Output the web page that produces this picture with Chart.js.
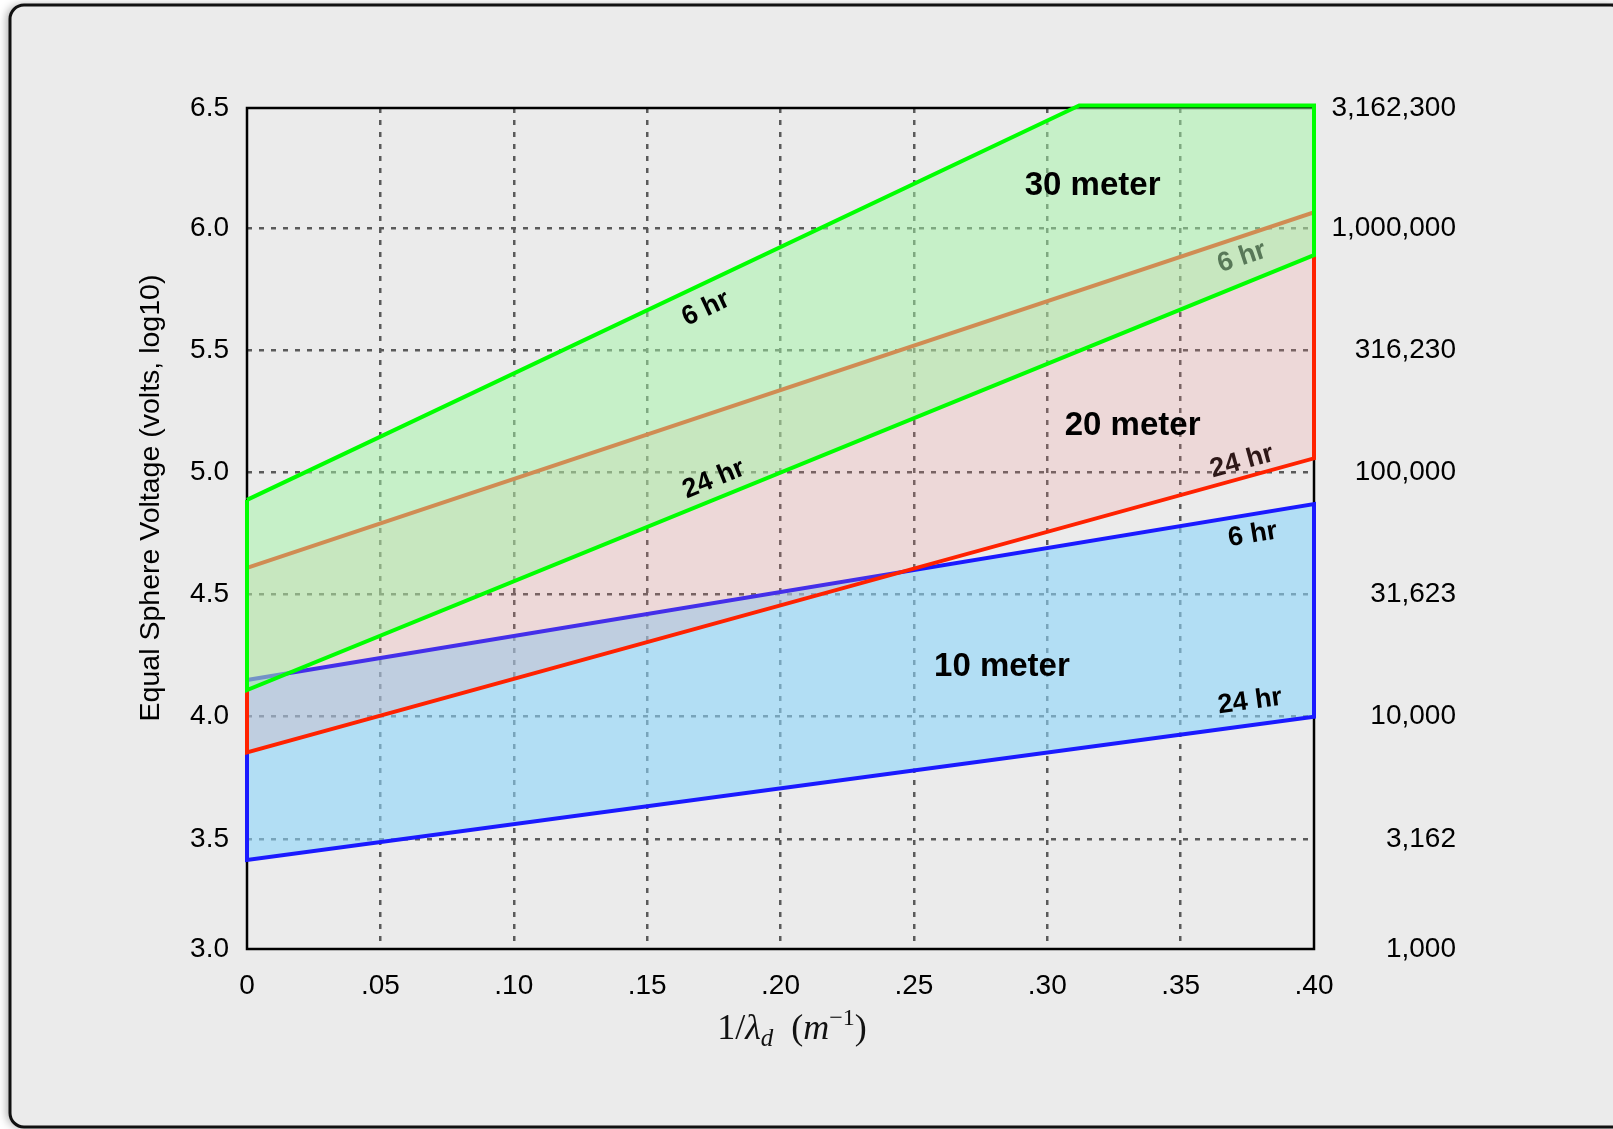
<!DOCTYPE html>
<html>
<head>
<meta charset="utf-8">
<title>Equal Sphere Voltage</title>
<script src="https://cdn.jsdelivr.net/npm/chart.js"></script>
<style>
  html, body { margin: 0; padding: 0; background: #fff; }
  canvas { display: block; }
</style>
</head>
<body>
<canvas id="chart" width="1613" height="1129"></canvas>
<script>
// ===============================
// Data
// ===============================
const xTicks = [0, 0.05, 0.10, 0.15, 0.20, 0.25, 0.30, 0.35, 0.40];
const xTickLabels = ["0", ".05", ".10", ".15", ".20", ".25", ".30", ".35", ".40"];
const yTicks = [3.0, 3.5, 4.0, 4.5, 5.0, 5.5, 6.0, 6.5];
const yTickLabels = ["3.0", "3.5", "4.0", "4.5", "5.0", "5.5", "6.0", "6.5"];
const voltLabels = ["1,000", "3,162", "10,000", "31,623", "100,000", "316,230", "1,000,000", "3,162,300"];

const bandNames = ["30 meter", "20 meter", "10 meter"];
const hourNames = ["6 hr", "24 hr"];

// x of the two ends of every band edge
const lineX = [0, 0.40];

// 30 meter: the 6 hr edge runs into the top of the chart
const m30x6 = [0, 0.312, 0.40];
const m30y6 = [4.887, 6.5, 6.5];
const m30y24 = [4.109, 5.888];

// 20 meter
const m20y6 = [4.609, 6.063];
const m20y24 = [3.854, 5.057];

// 10 meter
const m10y6 = [4.150, 4.870];
const m10y24 = [3.414, 4.000];

// visible axis range (the 3.0 / 6.5 labels sit on the frame)
const yMin = 3.05;
const yMax = 6.49;

// ===============================
// Helpers
// ===============================
function band(xTop, yTop, xBot, yBot) {
  const pts = xTop.map((x, i) => ({ x: x, y: yTop[i] }));
  for (let i = xBot.length - 1; i >= 0; i--) {
    pts.push({ x: xBot[i], y: yBot[i] });
  }
  pts.push({ x: xTop[0], y: yTop[0] });
  return pts;
}

function bandDataset(name, pts, line, fill, order) {
  return {
    label: name,
    data: pts,
    showLine: true,
    fill: "shape",
    backgroundColor: fill,
    borderColor: line,
    borderWidth: 4,
    borderJoinStyle: "miter",
    pointRadius: 0,
    pointHoverRadius: 0,
    tension: 0,
    clip: false,
    order: order
  };
}

// edges the hour labels follow: [xs, ys]
const edges = [
  [m30x6, m30y6],
  [lineX, m30y24],
  [lineX, m20y6],
  [lineX, m20y24],
  [lineX, m10y6],
  [lineX, m10y24]
];

// labels in data units
const hourLabels = [
  { text: hourNames[0], x: 0.172, y: 5.669, edge: 0, color: "#000" },
  { text: hourNames[1], x: 0.175, y: 4.971, edge: 1, color: "#000" },
  { text: hourNames[0], x: 0.373, y: 5.879, edge: 2, color: "#587858" },
  { text: hourNames[1], x: 0.373, y: 5.043, edge: 3, color: "#2e1818" },
  { text: hourNames[0], x: 0.377, y: 4.744, edge: 4, color: "#000" },
  { text: hourNames[1], x: 0.376, y: 4.062, edge: 5, color: "#000" }
];
const bandLabels = [
  { text: bandNames[0], x: 0.317, y: 6.170 },
  { text: bandNames[1], x: 0.332, y: 5.189 },
  { text: bandNames[2], x: 0.283, y: 4.205 }
];

function edgeAngle(chart, idx) {
  const xs = chart.scales.x, ys = chart.scales.y;
  const e = edges[idx];
  const dx = xs.getPixelForValue(e[0][1]) - xs.getPixelForValue(e[0][0]);
  const dy = ys.getPixelForValue(e[1][1]) - ys.getPixelForValue(e[1][0]);
  return Math.atan2(dy, dx);
}

// ===============================
// Plugins
// ===============================
const backdrop = {
  id: "backdrop",
  beforeDraw(chart) {
    const ctx = chart.ctx;
    ctx.save();
    ctx.fillStyle = "#fff";
    ctx.fillRect(0, 0, chart.width, chart.height);
    ctx.beginPath();
    ctx.roundRect(10, 5, 1615, 1122, 14);
    ctx.shadowColor = "rgba(0,0,0,0.35)";
    ctx.shadowBlur = 10;
    ctx.shadowOffsetX = -3;
    ctx.fillStyle = "#ebebeb";
    ctx.fill();
    ctx.shadowColor = "transparent";
    ctx.lineWidth = 3;
    ctx.strokeStyle = "#111";
    ctx.stroke();
    ctx.restore();
  }
};

const frameAndText = {
  id: "frameAndText",
  beforeDatasetsDraw(chart) {
    const ctx = chart.ctx;
    const a = chart.chartArea;
    ctx.save();
    ctx.lineWidth = 2.5;
    ctx.strokeStyle = "#000";
    ctx.strokeRect(a.left, a.top, a.right - a.left, a.bottom - a.top);
    ctx.restore();
  },
  afterDatasetsDraw(chart) {
    const ctx = chart.ctx;
    const xs = chart.scales.x, ys = chart.scales.y;

    hourLabels.forEach(l => {
      ctx.save();
      ctx.translate(xs.getPixelForValue(l.x), ys.getPixelForValue(l.y));
      ctx.rotate(edgeAngle(chart, l.edge));
      ctx.font = "bold 27px 'Liberation Sans', Arial, sans-serif";
      ctx.fillStyle = l.color;
      ctx.textAlign = "center";
      ctx.textBaseline = "middle";
      ctx.fillText(l.text, 0, 0);
      ctx.restore();
    });

    ctx.save();
    ctx.font = "bold 33px 'Liberation Sans', Arial, sans-serif";
    ctx.fillStyle = "#000";
    ctx.textAlign = "center";
    ctx.textBaseline = "middle";
    bandLabels.forEach(l => {
      ctx.fillText(l.text, xs.getPixelForValue(l.x), ys.getPixelForValue(l.y));
    });
    ctx.restore();
  },
  afterDraw(chart) {
    const ctx = chart.ctx;
    // y axis title
    ctx.save();
    ctx.translate(151, 498);
    ctx.rotate(-Math.PI / 2);
    ctx.font = "28.5px 'Liberation Sans', Arial, sans-serif";
    ctx.fillStyle = "#000";
    ctx.textAlign = "center";
    ctx.textBaseline = "middle";
    ctx.fillText("Equal Sphere Voltage (volts, log10)", 0, 0);
    ctx.restore();

    // x axis title: 1/λ_d (m^-1)
    const serif = "'Liberation Serif', 'DejaVu Serif', serif";
    const parts = [
      { t: "1/", f: "36px " + serif, dy: 0 },
      { t: "λ", f: "italic 36px " + serif, dy: 0 },
      { t: "d", f: "italic 25px " + serif, dy: 7 },
      { t: "  ", f: "36px " + serif, dy: 0 },
      { t: "(", f: "36px " + serif, dy: 0 },
      { t: "m", f: "italic 36px " + serif, dy: 0 },
      { t: "−1", f: "24px " + serif, dy: -14 },
      { t: ")", f: "36px " + serif, dy: 0 }
    ];
    ctx.save();
    ctx.fillStyle = "#111";
    ctx.textBaseline = "alphabetic";
    let total = 0;
    parts.forEach(p => { ctx.font = p.f; p.w = ctx.measureText(p.t).width; total += p.w; });
    let x = 792 - total / 2;
    parts.forEach(p => {
      ctx.font = p.f;
      ctx.fillText(p.t, x, 1039 + p.dy);
      x += p.w;
    });
    ctx.restore();
  }
};

// ===============================
// Chart
// ===============================
const gridColor = ctx =>
  (ctx.index === 0 || ctx.index === ctx.scale.ticks.length - 1) ? "transparent" : "#5a5a5a";

const tickFont = { family: "'Liberation Sans', Arial, sans-serif", size: 28 };

new Chart(document.getElementById("chart"), {
  type: "scatter",
  data: {
    datasets: [
      bandDataset(bandNames[0], band(m30x6, m30y6, lineX, m30y24), "#00ff00", "rgba(161,245,165,0.5)", 1),
      bandDataset(bandNames[1], band(lineX, m20y6, lineX, m20y24), "#ff2200", "rgba(250,137,137,0.19)", 2),
      bandDataset(bandNames[2], band(lineX, m10y6, lineX, m10y24), "#1a1aff", "rgba(140,213,250,0.6)", 3)
    ]
  },
  options: {
    responsive: false,
    animation: false,
    events: [],
    layout: { padding: { top: 108, left: 0, right: 157, bottom: 0 } },
    plugins: {
      legend: { display: false },
      tooltip: { enabled: false }
    },
    scales: {
      x: {
        type: "linear",
        position: "bottom",
        min: 0,
        max: 0.40,
        afterBuildTicks: s => { s.ticks = xTicks.map(v => ({ value: v })); },
        afterFit: s => { s.height = 180; },
        ticks: {
          padding: 20,
          color: "#000",
          font: tickFont,
          maxRotation: 0,
          autoSkip: false,
          callback: (v, i) => xTickLabels[i]
        },
        grid: { color: gridColor, lineWidth: 2.5, drawTicks: false },
        border: { display: false, dash: [5, 7] }
      },
      y: {
        type: "linear",
        position: "left",
        min: yMin,
        max: yMax,
        afterBuildTicks: s => { s.ticks = yTicks.map(v => ({ value: Math.min(Math.max(v, yMin), yMax) })); },
        afterFit: s => { s.width = 247; },
        ticks: {
          padding: 18,
          color: "#000",
          font: tickFont,
          autoSkip: false,
          callback: (v, i) => yTickLabels[i]
        },
        grid: { color: gridColor, lineWidth: 2.5, drawTicks: false },
        border: { display: false, dash: [5, 7] }
      },
      y2: {
        type: "linear",
        position: "right",
        min: yMin,
        max: yMax,
        afterBuildTicks: s => { s.ticks = yTicks.map(v => ({ value: Math.min(Math.max(v, yMin), yMax) })); },
        afterFit: s => { s.width = 142; },
        ticks: {
          padding: 15,
          crossAlign: "far",
          color: "#000",
          font: tickFont,
          autoSkip: false,
          callback: (v, i) => voltLabels[i]
        },
        grid: { display: false, drawTicks: false },
        border: { display: false }
      }
    }
  },
  plugins: [backdrop, frameAndText]
});
</script>
</body>
</html>
